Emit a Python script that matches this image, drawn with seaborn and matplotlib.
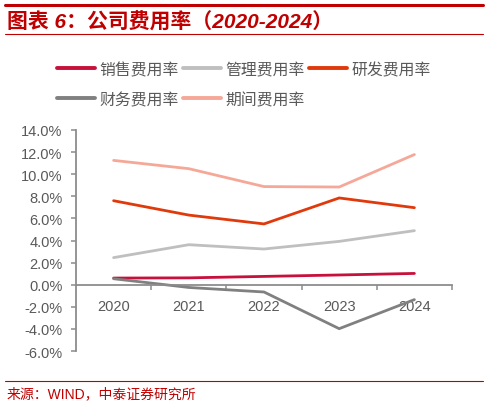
import matplotlib
matplotlib.use('Agg')
import matplotlib.pyplot as plt
import seaborn as sns
import pandas as pd
from matplotlib.lines import Line2D
from matplotlib.ticker import FixedLocator, FuncFormatter

# ---- data ----
years = ['2020', '2021', '2022', '2023', '2024']
sales = [0.60, 0.62, 0.75, 0.88, 1.02]
admin = [2.45, 3.62, 3.23, 3.92, 4.89]
rnd = [7.60, 6.30, 5.50, 7.85, 6.97]
fin = [0.54, -0.25, -0.66, -3.98, -1.35]
period = [11.25, 10.50, 8.88, 8.84, 11.78]
series_names = ['销售费用率', '管理费用率', '研发费用率', '财务费用率', '期间费用率']
series_colors = ['#C8103C', '#BFBFBF', '#E03A0C', '#808080', '#F6A898']
yticks = [-6, -4, -2, 0, 2, 4, 6, 8, 10, 12, 14]
title = '图表 6：公司费用率（2020-2024）'
source = '来源：WIND，中泰证券研究所'

rows = []
for name, vals in zip(series_names, [sales, admin, rnd, fin, period]):
    for y, v in zip(years, vals):
        rows.append({'year': y, 'value': v, 'series': name})
df = pd.DataFrame(rows)

sns.set_style('white')
plt.rcParams['font.family'] = ['Liberation Sans', 'Noto Sans CJK SC', 'DejaVu Sans']

W, H = 488, 406
fig = plt.figure(figsize=(W / 100, H / 100), dpi=100)
ax = fig.add_axes([76 / W, 1 - 352 / H, (452 - 76) / W, (352 - 131) / H])

sns.lineplot(data=df, x='year', y='value', hue='series', hue_order=series_names,
             palette=dict(zip(series_names, series_colors)), linewidth=2.0,
             sort=False, ax=ax, legend=True)

ax.set_xlim(-0.5, 4.5)
ax.set_ylim(-6, 14)
ax.set_xlabel('')
ax.set_ylabel('')

grey = '#595959'
spine_c = '#8C8C8C'
for s in ['top', 'right']:
    ax.spines[s].set_visible(False)
ax.spines['left'].set_color(spine_c)
ax.spines['left'].set_linewidth(1.3)
ax.spines['bottom'].set_color(spine_c)
ax.spines['bottom'].set_linewidth(1.3)
ax.spines['bottom'].set_position(('data', 0))

ax.yaxis.set_major_locator(FixedLocator(yticks))
ax.yaxis.set_major_formatter(FuncFormatter(lambda v, p: f'{v:.1f}%'))
ax.tick_params(axis='y', which='major', left=True, length=3.6, width=1.1,
               color=spine_c, pad=6, labelsize=10.5, labelcolor=grey)
ax.set_xticks(range(len(years)))
ax.set_xticklabels(years)
ax.xaxis.set_minor_locator(FixedLocator([0.5, 1.5, 2.5, 3.5, 4.5]))
ax.tick_params(axis='x', which='major', bottom=True, length=0, pad=10,
               labelsize=10.5, labelcolor=grey)
ax.tick_params(axis='x', which='minor', bottom=True, length=3.6, width=1.1,
               color=spine_c)

# legend
handles, labels = ax.get_legend_handles_labels()
ax.get_legend().remove()
hmap = dict(zip(labels, handles))
order = ['销售费用率', '财务费用率', '管理费用率', '期间费用率', '研发费用率']
leg = fig.legend([hmap[o] for o in order], order, loc='upper left',
                 bbox_to_anchor=(57 / W, 1 - 62 / H), ncol=3, frameon=False,
                 prop={'family': ['Noto Sans CJK SC'], 'size': 11.4},
                 handlelength=2.4, handletextpad=0.25, columnspacing=0.3,
                 labelspacing=0.82, borderpad=0, borderaxespad=0)
for t in leg.get_texts():
    t.set_color(grey)
for l in leg.get_lines():
    l.set_linewidth(2.8)

# title & decorations
red = '#C00000'
fig.add_artist(Line2D([5 / W, 483 / W], [1 - 6 / H, 1 - 6 / H], transform=fig.transFigure,
                      color=red, lw=2.2))
fig.add_artist(Line2D([5 / W, 483 / W], [1 - 35 / H, 1 - 35 / H], transform=fig.transFigure,
                      color=red, lw=0.8))
fig.text(7 / W, 1 - 22 / H, title, color=red, fontsize=15, fontweight='bold',
         fontstyle='italic', ha='left', va='center',
         family=['Liberation Sans', 'Noto Sans CJK SC'])
fig.add_artist(Line2D([5 / W, 483 / W], [1 - 382 / H, 1 - 382 / H], transform=fig.transFigure,
                      color=red, lw=0.8))
fig.text(7 / W, 1 - 394 / H, source, color=red, fontsize=10, ha='left', va='center',
         family=['Liberation Sans', 'Noto Sans CJK SC'])

fig.savefig('out.png', dpi=100)
